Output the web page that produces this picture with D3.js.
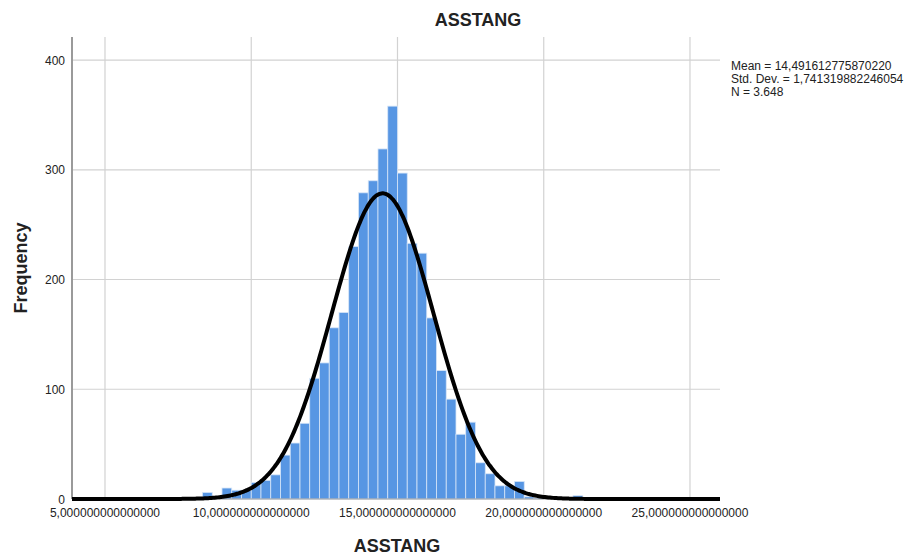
<!DOCTYPE html>
<meta charset="utf-8">
<head>
<script src="https://d3js.org/d3.v7.min.js"></script>
<style>
  body { margin: 0; background: #fff; }
  text { font-family: Arial, "Liberation Sans", sans-serif; }
</style>
</head>
<body>
<svg id="chart" width="911" height="556"></svg>
<script>
// histogram bins (lower edge, width 1/3) and counts
var binStart = [5.333, 8.333, 8.667, 9.000, 9.333, 9.667, 10.000, 10.333, 10.667,
                11.000, 11.333, 11.667, 12.000, 12.333, 12.667, 13.000, 13.333, 13.667,
                14.000, 14.333, 14.667, 15.000, 15.333, 15.667, 16.000, 16.333, 16.667,
                17.000, 17.333, 17.667, 18.000, 18.333, 18.667, 19.000, 19.333, 19.667, 21.000];
var freq = [1, 6, 0, 10, 8, 8, 15, 17, 22,
            40, 51, 69, 110, 124, 156, 170, 230, 279,
            290, 319, 358, 297, 233, 224, 165, 117, 91,
            59, 70, 33, 23, 12, 12, 16, 2, 1, 3];
var binWidth = 1 / 3;

var xTicks = [5, 10, 15, 20, 25];
var xTickLabels = ["5,000000000000000", "10,000000000000000", "15,000000000000000",
                   "20,000000000000000", "25,000000000000000"];
var yTicks = [0, 100, 200, 300, 400];

var stats = { mean: 14.491612775870220, sd: 1.741319882246054, n: 3648 };
var statLines = ["Mean = 14,491612775870220", "Std. Dev. = 1,741319882246054", "N = 3.648"];

var svg = d3.select("#chart");
var pLeft = 72, pRight = 720, pTop = 37, pBottom = 499;

var x = d3.scaleLinear().domain([3.872, 26.026]).range([pLeft, pRight]);
var y = d3.scaleLinear().domain([0, 421]).range([pBottom, pTop]);

// grid
svg.append("g").selectAll("line")
  .data(xTicks).enter().append("line")
  .attr("x1", d => x(d)).attr("x2", d => x(d))
  .attr("y1", pTop).attr("y2", pBottom)
  .attr("stroke", "#d2d2d2").attr("stroke-width", 1.2);

svg.append("g").selectAll("line")
  .data(yTicks.filter(d => d > 0)).enter().append("line")
  .attr("x1", pLeft).attr("x2", pRight)
  .attr("y1", d => y(d)).attr("y2", d => y(d))
  .attr("stroke", "#d2d2d2").attr("stroke-width", 1.2);

// bars
var bins = binStart.map((b, i) => ({ lo: b, hi: b + binWidth, n: freq[i] }));
svg.append("g").selectAll("rect")
  .data(bins.filter(d => d.n > 0)).enter().append("rect")
  .attr("x", d => x(d.lo))
  .attr("width", d => x(d.hi) - x(d.lo))
  .attr("y", d => y(d.n))
  .attr("height", d => y(0) - y(d.n))
  .attr("fill", "#5796e3")
  .attr("stroke", "#d6e5f8")
  .attr("stroke-width", 0.8);

// axes lines
svg.append("line").attr("x1", pLeft).attr("x2", pLeft).attr("y1", pTop).attr("y2", pBottom)
  .attr("stroke", "#9a9a9a").attr("stroke-width", 2);
svg.append("line").attr("x1", pLeft).attr("x2", pRight).attr("y1", pBottom).attr("y2", pBottom)
  .attr("stroke", "#9a9a9a").attr("stroke-width", 1);

// normal curve from the stated mean / sd / N
var k = stats.n * binWidth / (stats.sd * Math.sqrt(2 * Math.PI));
var pts = d3.range(0, 401).map(i => {
  var v = x.domain()[0] + (x.domain()[1] - x.domain()[0]) * i / 400;
  var z = (v - stats.mean) / stats.sd;
  return [v, k * Math.exp(-0.5 * z * z)];
});
svg.append("path")
  .datum(pts)
  .attr("fill", "none")
  .attr("stroke", "#000")
  .attr("stroke-width", 4)
  .attr("d", d3.line().x(d => x(d[0])).y(d => y(d[1])).curve(d3.curveBasis));

// tick labels
svg.append("g").selectAll("text")
  .data(xTicks).enter().append("text")
  .attr("x", d => x(d)).attr("y", 517)
  .attr("text-anchor", "middle")
  .attr("font-size", 12).attr("fill", "#222")
  .text((d, i) => xTickLabels[i]);

svg.append("g").selectAll("text")
  .data(yTicks).enter().append("text")
  .attr("x", 65).attr("y", d => y(d) + 4.5)
  .attr("text-anchor", "end")
  .attr("font-size", 12).attr("fill", "#222")
  .text(d => d);

// titles
svg.append("text").attr("x", 478).attr("y", 26).attr("text-anchor", "middle")
  .attr("font-size", 18).attr("font-weight", "bold").attr("fill", "#222").text("ASSTANG");
svg.append("text").attr("x", 397).attr("y", 552).attr("text-anchor", "middle")
  .attr("font-size", 18).attr("font-weight", "bold").attr("fill", "#222").text("ASSTANG");
svg.append("text").attr("transform", "translate(27,268) rotate(-90)").attr("text-anchor", "middle")
  .attr("font-size", 18).attr("font-weight", "bold").attr("fill", "#222").text("Frequency");

// stats box
svg.append("g").selectAll("text")
  .data(statLines).enter().append("text")
  .attr("x", 731).attr("y", (d, i) => 70 + i * 13)
  .attr("font-size", 12).attr("fill", "#222")
  .text(d => d);
</script>
</body>
